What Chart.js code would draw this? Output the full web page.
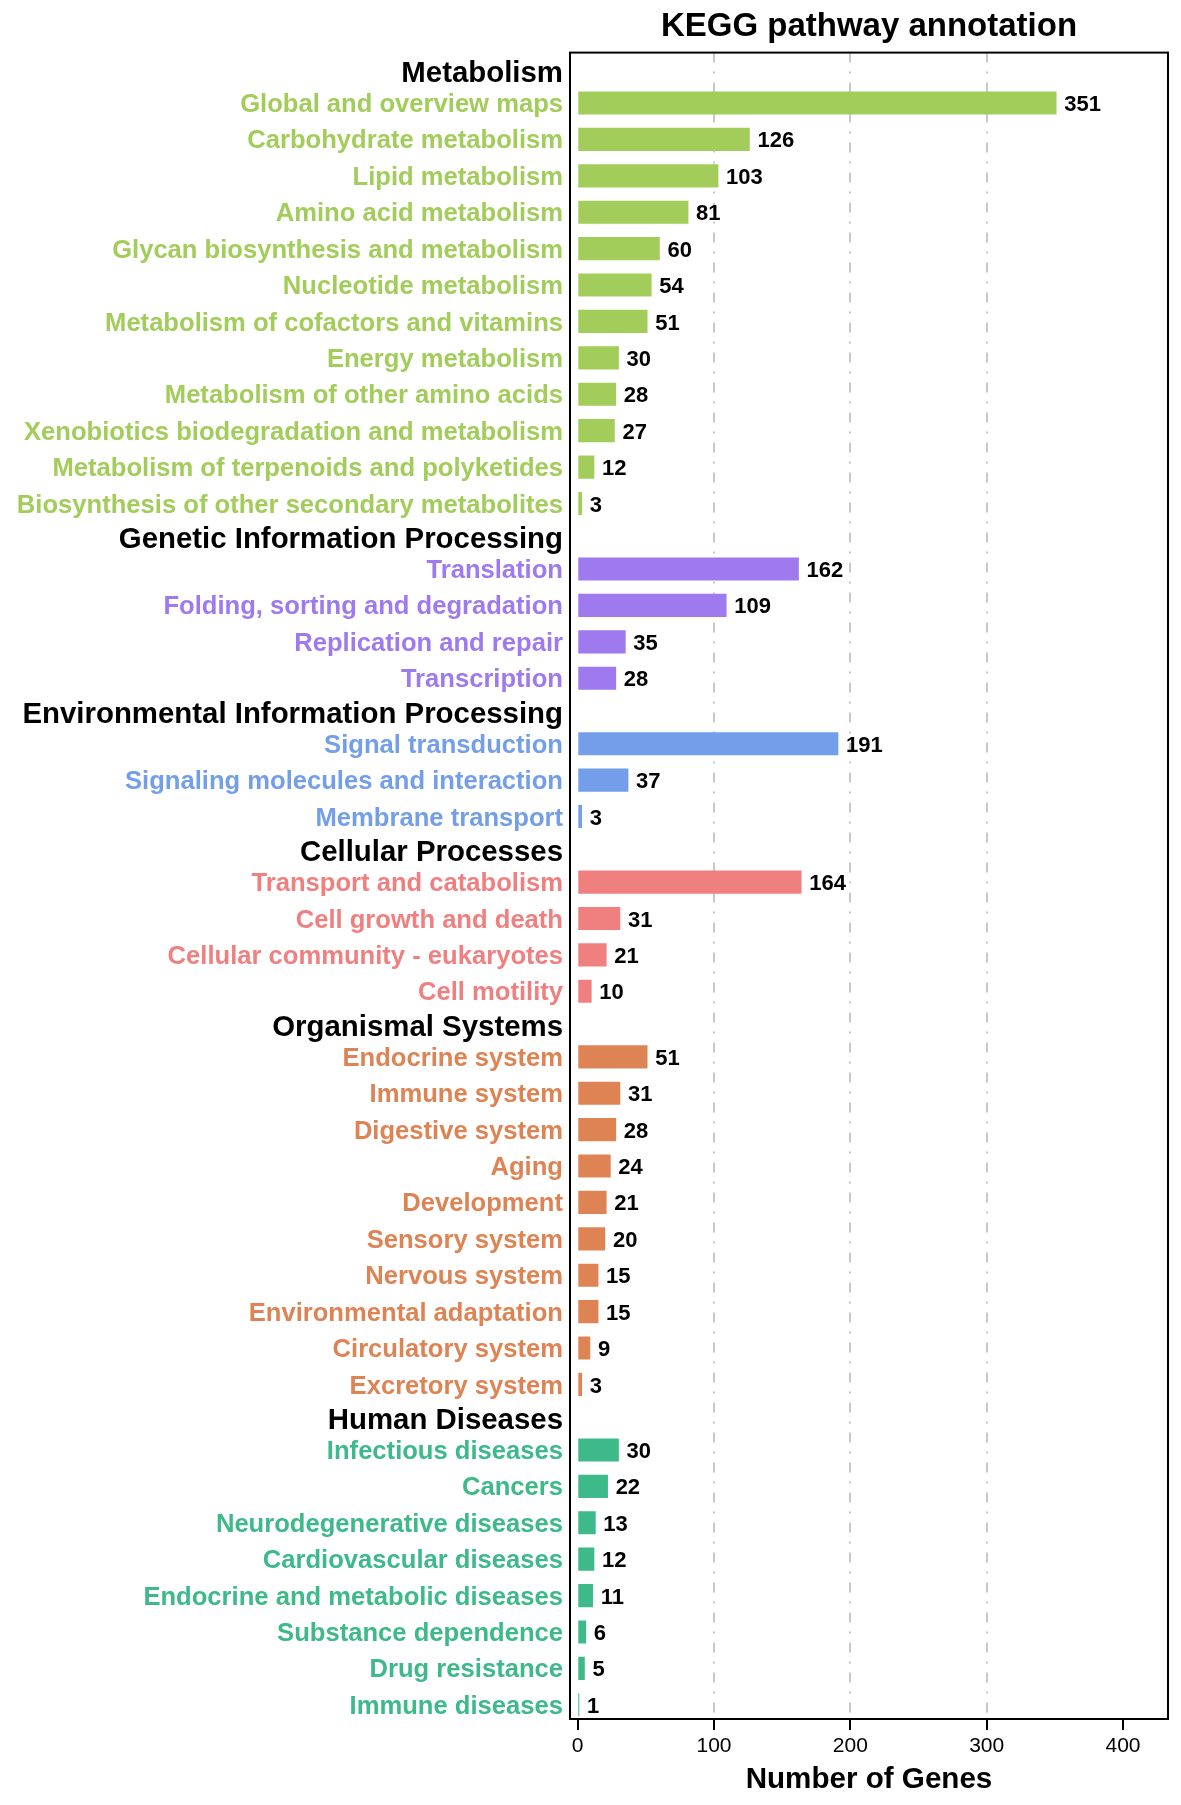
<!DOCTYPE html>
<html>
<head>
<meta charset="utf-8">
<script src="https://cdn.jsdelivr.net/npm/chart.js@4.4.1/dist/chart.umd.min.js"></script>
<style>
  html, body { margin: 0; padding: 0; background: #fff; }
  #wrap { width: 1181px; height: 1805px; }
</style>
</head>
<body>
<div id="wrap"><canvas id="kegg" width="1181" height="1805"></canvas></div>
<script>
/* ── data ── */
const groupNames = [
  'Metabolism',
  'Genetic Information Processing',
  'Environmental Information Processing',
  'Cellular Processes',
  'Organismal Systems',
  'Human Diseases',
];
const groupColors = ['#A2CD5A', '#9F79EE', '#739FEA', '#F08080', '#DE8353', '#3DB98A'];

const metabolismLabels = [
  'Global and overview maps', 'Carbohydrate metabolism', 'Lipid metabolism',
  'Amino acid metabolism', 'Glycan biosynthesis and metabolism', 'Nucleotide metabolism',
  'Metabolism of cofactors and vitamins', 'Energy metabolism', 'Metabolism of other amino acids',
  'Xenobiotics biodegradation and metabolism', 'Metabolism of terpenoids and polyketides',
  'Biosynthesis of other secondary metabolites',
];
const metabolismValues = [351, 126, 103, 81, 60, 54, 51, 30, 28, 27, 12, 3];

const geneticLabels = ['Translation', 'Folding, sorting and degradation', 'Replication and repair', 'Transcription'];
const geneticValues = [162, 109, 35, 28];

const environmentalLabels = ['Signal transduction', 'Signaling molecules and interaction', 'Membrane transport'];
const environmentalValues = [191, 37, 3];

const cellularLabels = ['Transport and catabolism', 'Cell growth and death', 'Cellular community - eukaryotes', 'Cell motility'];
const cellularValues = [164, 31, 21, 10];

const organismalLabels = [
  'Endocrine system', 'Immune system', 'Digestive system', 'Aging', 'Development',
  'Sensory system', 'Nervous system', 'Environmental adaptation', 'Circulatory system', 'Excretory system',
];
const organismalValues = [51, 31, 28, 24, 21, 20, 15, 15, 9, 3];

const diseaseLabels = [
  'Infectious diseases', 'Cancers', 'Neurodegenerative diseases', 'Cardiovascular diseases',
  'Endocrine and metabolic diseases', 'Substance dependence', 'Drug resistance', 'Immune diseases',
];
const diseaseValues = [30, 22, 13, 12, 11, 6, 5, 1];

const xTicks = [0, 100, 200, 300, 400];

/* ── build rows: a header row, then its pathways ── */
const groupLabels = [metabolismLabels, geneticLabels, environmentalLabels, cellularLabels, organismalLabels, diseaseLabels];
const groupValues = [metabolismValues, geneticValues, environmentalValues, cellularValues, organismalValues, diseaseValues];

const GAP_BEFORE = 0.95;  // last bar -> next header, in row units
const GAP_AFTER  = 0.85;  // header -> its first bar
const tickPos    = [];
const tickText   = [];
const tickColor  = [];
const tickHeader = [];
const bars       = [];
const barColors  = [];

let pos = 0;
groupNames.forEach((g, gi) => {
  if (gi > 0) pos += GAP_BEFORE;
  tickPos.push(pos); tickText.push(g); tickColor.push('#000'); tickHeader.push(true);
  pos += GAP_AFTER;
  groupLabels[gi].forEach((lbl, i) => {
    if (i > 0) pos += 1;
    tickPos.push(pos); tickText.push(lbl); tickColor.push(groupColors[gi]); tickHeader.push(false);
    bars.push({ x: groupValues[gi][i], y: pos });
    barColors.push(groupColors[gi]);
  });
});
const yMin = -0.535;
const yMax = pos + 0.39;

const FONT = '"Liberation Sans", Arial, sans-serif';

/* ── plugins ── */
const framePlugin = {
  id: 'frame',
  afterDraw(chart) {
    const { ctx, chartArea: a } = chart;
    ctx.save();
    ctx.strokeStyle = '#000';
    ctx.lineWidth = 2;
    ctx.strokeRect(a.left, a.top, a.right - a.left, a.bottom - a.top);
    ctx.restore();
  },
};

const valueLabels = {
  id: 'valueLabels',
  afterDatasetsDraw(chart) {
    const { ctx } = chart;
    const meta = chart.getDatasetMeta(0);
    ctx.save();
    ctx.fillStyle = '#000';
    ctx.font = 'bold 22px ' + FONT;
    ctx.textAlign = 'left';
    ctx.textBaseline = 'middle';
    meta.data.forEach((bar, i) => {
      ctx.fillText(String(bars[i].x), bar.x + 8, bar.y + 2);
    });
    ctx.restore();
  },
};

/* ── chart ── */
new Chart(document.getElementById('kegg'), {
  type: 'bar',
  data: {
    datasets: [{
      data: bars,
      backgroundColor: barColors,
      borderWidth: 0,
      barThickness: 22.5,
    }],
  },
  options: {
    indexAxis: 'y',
    responsive: false,
    animation: false,
    devicePixelRatio: 1,
    layout: { padding: { left: 0, right: 13, top: 0, bottom: 0 } },
    plugins: {
      legend: { display: false },
      tooltip: { enabled: false },
      title: {
        display: true,
        text: 'KEGG pathway annotation',
        fullSize: false,
        color: '#000',
        font: { family: FONT, size: 33, weight: 'bold' },
        padding: { top: 7, bottom: 6 },
      },
    },
    scales: {
      x: {
        type: 'linear',
        min: -5.6,
        max: 433,
        afterBuildTicks: s => { s.ticks = xTicks.map(v => ({ value: v })); },
        afterFit: s => { s.height = 86; },
        ticks: {
          color: '#000',
          padding: 4,
          font: { family: FONT, size: 21 },
        },
        grid: {
          color: c => (c.tick && (c.tick.value === 0 || c.tick.value === 400)) ? 'rgba(0,0,0,0)' : '#c8c8c8',
          lineWidth: 2,
          drawTicks: true,
          tickLength: 11,
          tickColor: '#000',
          tickWidth: 2,
        },
        border: { display: false, dash: [10, 9, 2, 9] },
        title: {
          display: true,
          text: 'Number of Genes',
          color: '#000',
          font: { family: FONT, size: 29.6, weight: 'bold' },
          padding: { top: 0, bottom: 7 },
        },
      },
      y: {
        type: 'linear',
        reverse: true,
        offset: false,
        min: yMin,
        max: yMax,
        afterBuildTicks: s => { s.ticks = tickPos.map(v => ({ value: v })); },
        afterFit: s => { s.width = 570; },
        grid: { display: false, drawTicks: false, offset: false },
        border: { display: false },
        ticks: {
          autoSkip: false,
          padding: 7,
          labelOffset: 2,
          callback: (v, i) => tickText[i],
          color: c => tickColor[c.index],
          font: c => tickHeader[c.index]
            ? { family: FONT, size: 29.4, weight: 'bold' }
            : { family: FONT, size: 25.6, weight: 'bold' },
        },
      },
    },
  },
  plugins: [framePlugin, valueLabels],
});
</script>
</body>
</html>
